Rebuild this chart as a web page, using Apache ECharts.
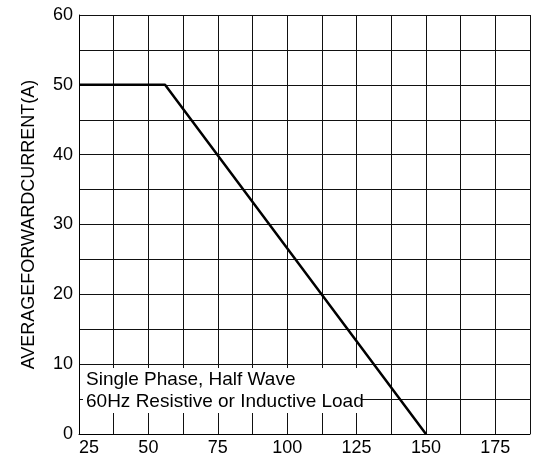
<!DOCTYPE html>
<html>
<head>
<meta charset="utf-8">
<script src="https://cdn.jsdelivr.net/npm/echarts@6/dist/echarts.min.js"></script>
<style>html,body{margin:0;padding:0;background:#fff;}#c{width:533px;height:461px;}</style>
</head>
<body>
<div id="c"></div>
<script>
var curveX = [25, 56, 150];
var curveY = [50, 50, 0];
var yAxisName = 'AVERAGEFORWARDCURRENT(A)';
var noteLines = ['Single Phase, Half Wave', '60Hz Resistive or Inductive Load'];

var chart = echarts.init(document.getElementById('c'));
var font = 'Liberation Sans, Arial, sans-serif';
chart.setOption({
  animation: false,
  grid: {left: 79, top: 15, right: 0, bottom: 27, containLabel: false},
  xAxis: {
    type: 'value', min: 25, max: 187.5, interval: 12.5,
    axisLine: {show: true, lineStyle: {color: '#000', width: 1}},
    axisTick: {show: false},
    splitLine: {show: true, lineStyle: {color: '#111', width: 1}},
    axisLabel: {
      color: '#000', fontFamily: font, fontSize: 18, margin: 5,
      alignMinLabel: 'left',
      formatter: function (v) { return ((v - 25) % 25 === 0 && v <= 175) ? String(v) : ''; }
    }
  },
  yAxis: {
    type: 'value', min: 0, max: 60, interval: 5,
    name: yAxisName, nameLocation: 'middle', nameGap: 41, nameRotate: 90,
    nameTextStyle: {color: '#000', fontFamily: font, fontSize: 18},
    axisLine: {show: true, lineStyle: {color: '#000', width: 1}},
    axisTick: {show: false},
    splitLine: {show: true, lineStyle: {color: '#111', width: 1}},
    axisLabel: {
      color: '#000', fontFamily: font, fontSize: 18, margin: 6,
      formatter: function (v) { return v % 10 === 0 ? String(v) : ''; }
    }
  },
  graphic: [
    {type: 'rect', left: 83, top: 368, shape: {width: 278, height: 45}, style: {fill: '#fff'}, z: 10},
    {type: 'text', left: 86, top: 369, z: 11, style: {text: noteLines.join('\n'), fill: '#000', font: '19px Liberation Sans, Arial, sans-serif', lineHeight: 22}}
  ],
  series: [{
    type: 'line', symbol: 'none', z: 20,
    data: curveX.map(function (x, i) { return [x, curveY[i]]; }),
    lineStyle: {color: '#000', width: 2.5}
  }]
});
</script>
</body>
</html>
